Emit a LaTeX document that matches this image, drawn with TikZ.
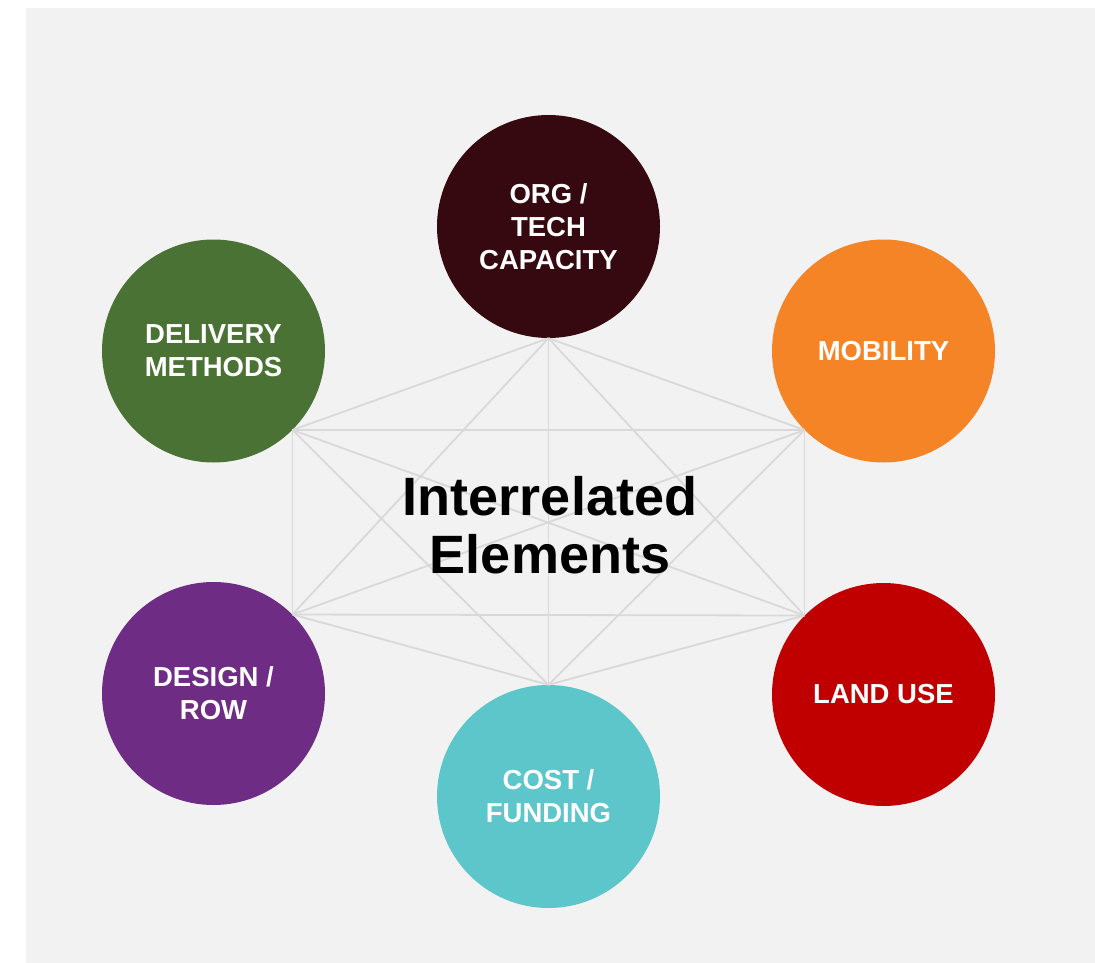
\documentclass[tikz,border=0pt]{standalone}
\usepackage{fontspec}
\setmainfont{Liberation Sans}
\definecolor{bg}{HTML}{F2F2F2}
\definecolor{web}{HTML}{D9D9D9}
\definecolor{orgcol}{HTML}{360810}
\definecolor{mobcol}{HTML}{F58426}
\definecolor{delcol}{HTML}{4A7234}
\definecolor{descol}{HTML}{6F2C85}
\definecolor{landcol}{HTML}{C00000}
\definecolor{costcol}{HTML}{5CC6CB}
\tikzset{
	elem/.style={circle, minimum size=223pt, inner sep=0pt, align=center, text=white,
		font=\fontsize{27.5}{33}\selectfont\bfseries},
	link/.style={draw=web, line width=1.8pt}
}
\begin{document}
\begin{tikzpicture}[x=1pt,y=-1pt]
		\useasboundingbox (0,0) rectangle (1095,963);
		\fill[bg] (26,8) rectangle (1095,963);

		% круги
		\node[elem, fill=orgcol] (org) at (548.5,226.5) {ORG /\\TECH\\CAPACITY};
		\node[elem, fill=mobcol] (mob) at (883.5,351) {MOBILITY};
		\node[elem, fill=delcol] (del) at (213.5,351) {DELIVERY\\METHODS};
		\node[elem, fill=descol] (des) at (213.5,693.5) {DESIGN /\\ROW};
		\node[elem, fill=landcol] (land) at (883.5,694.5) {LAND USE};
		\node[elem, fill=costcol] (cost) at (548.5,796.5) {COST /\\FUNDING};

		% связи
		\draw[link] (org.south) -- (cost.north);
		\draw[link] (org.south) -- (del.south east);
		\draw[link] (org.south) -- (mob.south west);
		\draw[link] (org.south) -- (des.north east);
		\draw[link] (org.south) -- (land.north west);
		\draw[link] (cost.north) -- (del.south east);
		\draw[link] (cost.north) -- (mob.south west);
		\draw[link] (cost.north) -- (des.north east);
		\draw[link] (cost.north) -- (land.north west);
		\draw[link] (del.south east) -- (mob.south west);
		\draw[link] (des.north east) -- (land.north west);
		\draw[link] (del.south east) -- (des.north east);
		\draw[link] (mob.south west) -- (land.north west);
		\draw[link] (del.south east) -- (land.north west);
		\draw[link] (mob.south west) -- (des.north east);

		% подпись
		\node[align=center, font=\fontsize{54}{58}\selectfont\bfseries] (title) at (550,525) {Interrelated\\Elements};
	\end{tikzpicture}
\end{document}
